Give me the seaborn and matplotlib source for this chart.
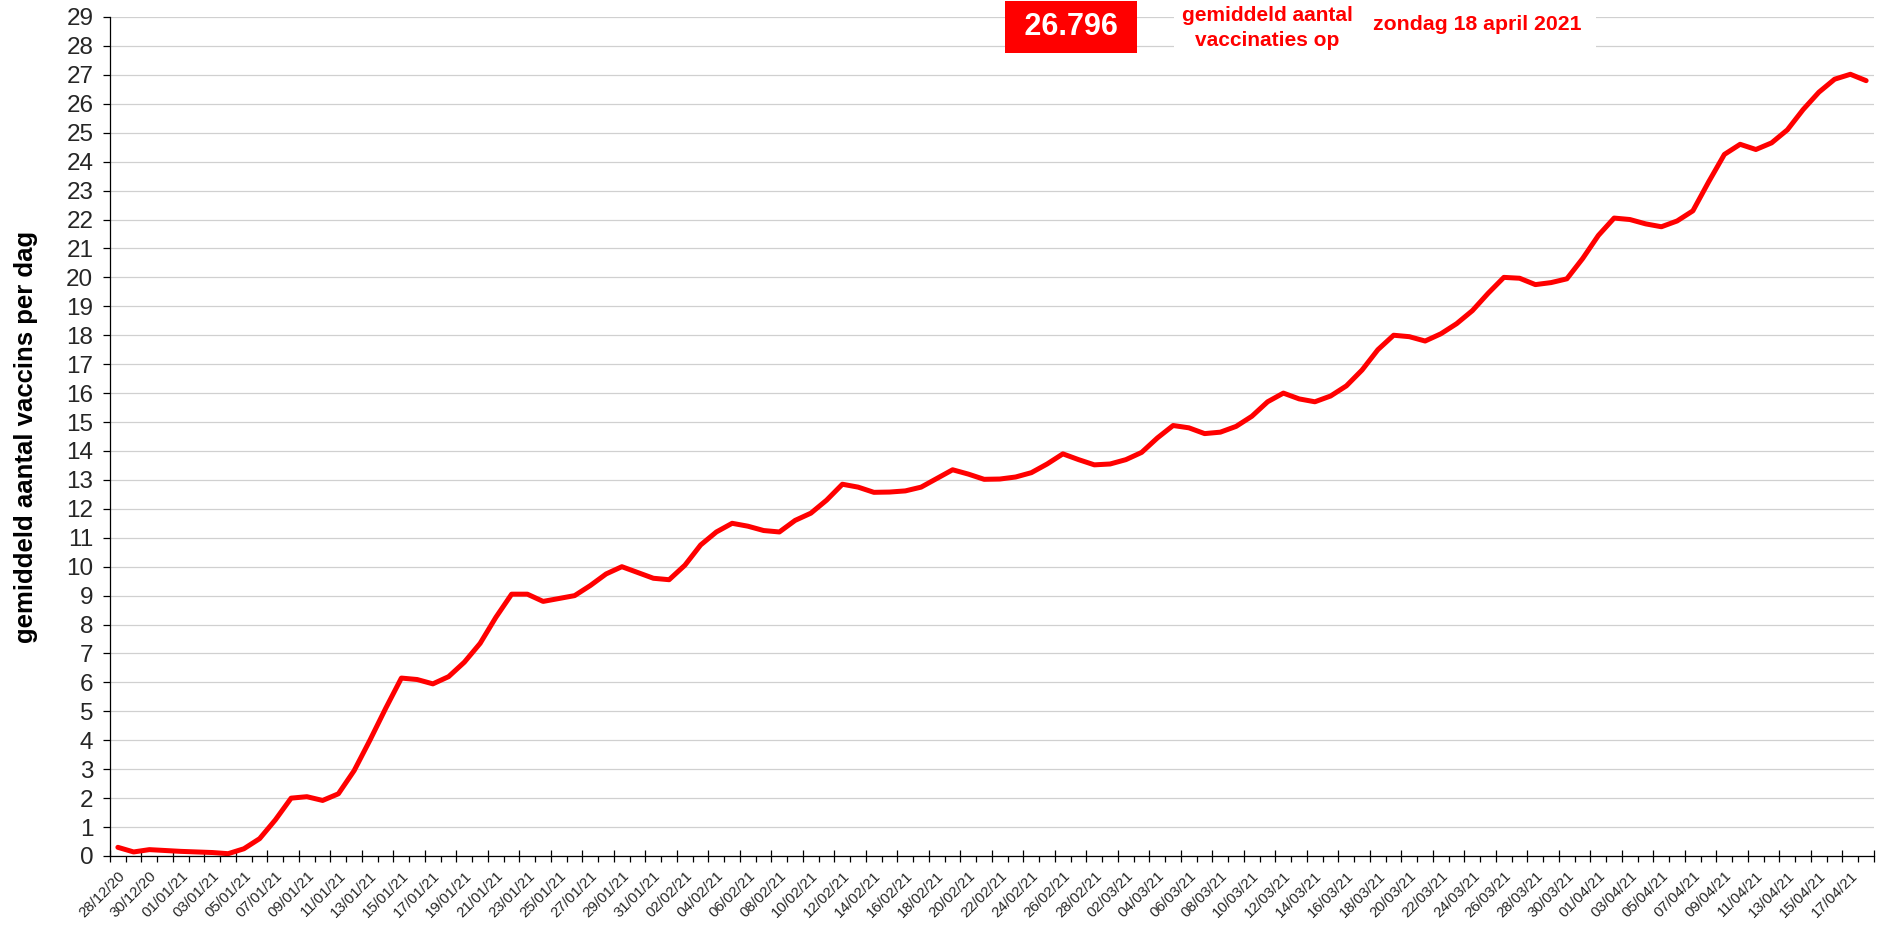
import numpy as np
import pandas as pd
import matplotlib
matplotlib.use("Agg")
import matplotlib.pyplot as plt
import seaborn as sns

# 7-daags gemiddelde aantal vaccinaties (x 1000), 28/12/20 t/m 18/04/21
gemiddeld = [
    0.30, 0.14, 0.22, 0.19, 0.16, 0.14, 0.12, 0.08, 0.25, 0.60,
    1.25, 2.00, 2.05, 1.92, 2.15, 2.95, 4.00, 5.10, 6.15, 6.10,
    5.95, 6.20, 6.70, 7.35, 8.25, 9.05, 9.05, 8.80, 8.90, 9.00,
    9.35, 9.75, 10.00, 9.80, 9.60, 9.55, 10.05, 10.75, 11.20, 11.50,
    11.40, 11.25, 11.20, 11.60, 11.85, 12.30, 12.85, 12.75, 12.57, 12.58,
    12.62, 12.75, 13.05, 13.35, 13.20, 13.02, 13.03, 13.10, 13.25, 13.55,
    13.90, 13.70, 13.52, 13.55, 13.70, 13.95, 14.45, 14.88, 14.80, 14.60,
    14.65, 14.85, 15.20, 15.70, 16.00, 15.80, 15.70, 15.90, 16.25, 16.80,
    17.50, 18.00, 17.95, 17.80, 18.05, 18.40, 18.85, 19.45, 20.00, 19.97,
    19.75, 19.82, 19.95, 20.65, 21.45, 22.05, 22.00, 21.85, 21.75, 21.95,
    22.30, 23.30, 24.25, 24.60, 24.42, 24.65, 25.10, 25.80, 26.40, 26.85,
    27.02, 26.80,
]
datums = pd.date_range("2020-12-28", periods=len(gemiddeld), freq="D")
datum_labels = [d.strftime("%d/%m/%y") for d in datums]
laatste_waarde = "26.796"
laatste_dag = "zondag 18 april 2021"

df = pd.DataFrame({"dag": np.arange(len(gemiddeld)), "gemiddeld": gemiddeld})
n = len(df)

sns.set_theme(style="white")
plt.rcParams["font.family"] = ["Liberation Sans", "DejaVu Sans"]

fig = plt.figure(figsize=(18.83, 9.36), dpi=100)
ax = fig.add_axes([110 / 1883, 1 - 856 / 936, (1874 - 110) / 1883, (856 - 17) / 936])

sns.lineplot(data=df, x="dag", y="gemiddeld", color="#ff0000", linewidth=3.6, ax=ax,
             solid_joinstyle="round", solid_capstyle="round")

ax.set_xlim(-0.5, n - 0.5)
ax.set_ylim(0, 29)
ax.set_yticks(range(0, 30))
ax.yaxis.grid(True, color="#d0d0d0", linewidth=0.9)
ax.set_axisbelow(True)

for s in ["top", "right"]:
    ax.spines[s].set_visible(False)
for s in ["left", "bottom"]:
    ax.spines[s].set_color("black")
    ax.spines[s].set_linewidth(0.9)

ax.tick_params(axis="y", direction="out", length=5, width=0.9, color="black",
               labelsize=17.5, pad=7, left=True)

# tickmarks on category boundaries
ax.set_xticks(np.arange(-0.5, n, 2))
ax.set_xticks(np.arange(0.5, n, 2), minor=True)
ax.tick_params(axis="x", which="major", direction="inout", length=9, width=0.9,
               color="black", labelbottom=False, bottom=True)
ax.tick_params(axis="x", which="minor", direction="out", length=4, width=0.9,
               color="black", bottom=True)

# date labels at category centres
sec = ax.secondary_xaxis("bottom")
sec.set_xticks(df["dag"][::2], labels=datum_labels[::2])
sec.tick_params(length=0, labelsize=10.8, pad=9)
sec.spines["bottom"].set_visible(False)
plt.setp(sec.get_xticklabels(), rotation=45, ha="right", rotation_mode="anchor")

ax.set_xlabel("")
ax.set_ylabel("gemiddeld aantal vaccins per dag", fontsize=18.5, fontweight="bold",
              color="black")
ax.yaxis.set_label_coords(-0.041, 0.5)

fig.text(1071 / 1883, 1 - 27 / 936, " " + laatste_waarde + " ", color="white",
         fontsize=22, fontweight="bold", ha="center", va="center",
         bbox=dict(boxstyle="square,pad=0.36", fc="#ff0000", ec="none"))
fig.text(1267 / 1883, 1 - 28 / 936, "gemiddeld aantal\nvaccinaties op",
         color="#ff0000", fontsize=15, fontweight="bold", ha="center",
         va="center", linespacing=1.4,
         bbox=dict(boxstyle="square,pad=0.35", fc="white", ec="none"))
fig.text(1477 / 1883, 1 - 25 / 936, laatste_dag, color="#ff0000", fontsize=15.3,
         fontweight="bold", ha="center", va="center",
         bbox=dict(boxstyle="square,pad=0.7", fc="white", ec="none"))

fig.savefig("out.png", dpi=100)
